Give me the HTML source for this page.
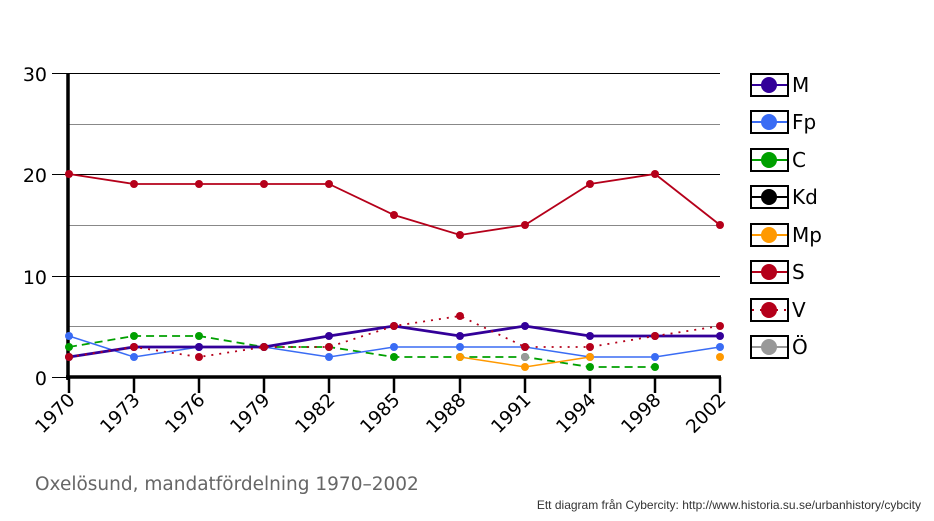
<!DOCTYPE html>
<html><head><meta charset="utf-8"><style>body{margin:0;background:#fff}svg{display:block}</style></head><body>
<svg width="934" height="521" xmlns="http://www.w3.org/2000/svg" font-family="DejaVu Sans, sans-serif">
<g stroke-width="1">
<line x1="69" y1="73.5" x2="720" y2="73.5" stroke="#000"/>
<line x1="69" y1="124.5" x2="720" y2="124.5" stroke="#888"/>
<line x1="69" y1="174.5" x2="720" y2="174.5" stroke="#000"/>
<line x1="69" y1="225.5" x2="720" y2="225.5" stroke="#888"/>
<line x1="69" y1="276.5" x2="720" y2="276.5" stroke="#000"/>
<line x1="69" y1="326.5" x2="720" y2="326.5" stroke="#888"/>
<line x1="52" y1="73.5" x2="69" y2="73.5" stroke="#000"/>
<line x1="52" y1="174.5" x2="69" y2="174.5" stroke="#000"/>
<line x1="52" y1="276.5" x2="69" y2="276.5" stroke="#000"/>
<line x1="52" y1="377.5" x2="69" y2="377.5" stroke="#000"/>
</g>
<g font-size="19" text-anchor="end">
<text x="47" y="81">30</text><text x="47" y="182">20</text><text x="47" y="284">10</text><text x="47" y="385">0</text>
</g>
<line x1="68" y1="73" x2="68" y2="380" stroke="#000" stroke-width="3.5"/>
<line x1="66" y1="377" x2="721" y2="377" stroke="#000" stroke-width="3.5"/>
<g stroke="#000" stroke-width="2.5">
<line x1="69" y1="377" x2="69" y2="393"/><line x1="134" y1="377" x2="134" y2="393"/><line x1="199" y1="377" x2="199" y2="393"/><line x1="264" y1="377" x2="264" y2="393"/><line x1="329" y1="377" x2="329" y2="393"/><line x1="394" y1="377" x2="394" y2="393"/><line x1="460" y1="377" x2="460" y2="393"/><line x1="525" y1="377" x2="525" y2="393"/><line x1="590" y1="377" x2="590" y2="393"/><line x1="655" y1="377" x2="655" y2="393"/><line x1="720" y1="377" x2="720" y2="393"/>
</g>
<g font-size="18.5" text-anchor="end">
<text transform="translate(76,401) rotate(-45)">1970</text>
<text transform="translate(141,401) rotate(-45)">1973</text>
<text transform="translate(206,401) rotate(-45)">1976</text>
<text transform="translate(271,401) rotate(-45)">1979</text>
<text transform="translate(336,401) rotate(-45)">1982</text>
<text transform="translate(401,401) rotate(-45)">1985</text>
<text transform="translate(467,401) rotate(-45)">1988</text>
<text transform="translate(532,401) rotate(-45)">1991</text>
<text transform="translate(597,401) rotate(-45)">1994</text>
<text transform="translate(662,401) rotate(-45)">1998</text>
<text transform="translate(727,401) rotate(-45)">2002</text>
</g>
<!-- S -->
<polyline fill="none" stroke="#b5001a" stroke-width="1.8" points="69,174 134,184 199,184 264,184 329,184 394,215 460,235 525,225 590,184 655,174 720,225"/>
<g fill="#b5001a"><circle cx="69" cy="174" r="4"/><circle cx="134" cy="184" r="4"/><circle cx="199" cy="184" r="4"/><circle cx="264" cy="184" r="4"/><circle cx="329" cy="184" r="4"/><circle cx="394" cy="215" r="4"/><circle cx="460" cy="235" r="4"/><circle cx="525" cy="225" r="4"/><circle cx="590" cy="184" r="4"/><circle cx="655" cy="174" r="4"/><circle cx="720" cy="225" r="4"/></g>
<!-- C -->
<polyline fill="none" stroke="#00a000" stroke-width="1.8" stroke-dasharray="8,5" points="69,347 134,336 199,336 264,347 329,347 394,357 460,357 525,357 590,367 655,367"/>
<g fill="#00a000"><circle cx="69" cy="347" r="4"/><circle cx="134" cy="336" r="4"/><circle cx="199" cy="336" r="4"/><circle cx="264" cy="347" r="4"/><circle cx="329" cy="347" r="4"/><circle cx="394" cy="357" r="4"/><circle cx="460" cy="357" r="4"/><circle cx="525" cy="357" r="4"/><circle cx="590" cy="367" r="4"/><circle cx="655" cy="367" r="4"/></g>
<!-- Fp -->
<polyline fill="none" stroke="#3a6cf4" stroke-width="1.5" points="69,336 134,357 199,347 264,347 329,357 394,347 460,347 525,347 590,357 655,357 720,347"/>
<g fill="#3a6cf4"><circle cx="69" cy="336" r="4"/><circle cx="134" cy="357" r="4"/><circle cx="199" cy="347" r="4"/><circle cx="264" cy="347" r="4"/><circle cx="329" cy="357" r="4"/><circle cx="394" cy="347" r="4"/><circle cx="460" cy="347" r="4"/><circle cx="525" cy="347" r="4"/><circle cx="590" cy="357" r="4"/><circle cx="655" cy="357" r="4"/><circle cx="720" cy="347" r="4"/></g>
<!-- Mp -->
<polyline fill="none" stroke="#ff9900" stroke-width="1.5" points="460,357 525,367 590,357"/>
<g fill="#ff9900"><circle cx="460" cy="357" r="4"/><circle cx="525" cy="367" r="4"/><circle cx="590" cy="357" r="4"/><circle cx="720" cy="357" r="4"/></g>
<circle cx="525" cy="357" r="4" fill="#999"/>
<!-- M -->
<polyline fill="none" stroke="#330099" stroke-width="2.8" points="69,357 134,347 199,347 264,347 329,336 394,326 460,336 525,326 590,336 655,336 720,336"/>
<g fill="#330099"><circle cx="69" cy="357" r="4"/><circle cx="134" cy="347" r="4"/><circle cx="199" cy="347" r="4"/><circle cx="264" cy="347" r="4"/><circle cx="329" cy="336" r="4"/><circle cx="394" cy="326" r="4"/><circle cx="460" cy="336" r="4"/><circle cx="525" cy="326" r="4"/><circle cx="590" cy="336" r="4"/><circle cx="655" cy="336" r="4"/><circle cx="720" cy="336" r="4"/></g>
<!-- V -->
<polyline fill="none" stroke="#b5001a" stroke-width="1.8" stroke-dasharray="2,6" points="69,357 134,347 199,357 264,347 329,347 394,326 460,316 525,347 590,347 655,336 720,326"/>
<g fill="#b5001a"><circle cx="69" cy="357" r="4"/><circle cx="134" cy="347" r="4"/><circle cx="199" cy="357" r="4"/><circle cx="264" cy="347" r="4"/><circle cx="329" cy="347" r="4"/><circle cx="394" cy="326" r="4"/><circle cx="460" cy="316" r="4"/><circle cx="525" cy="347" r="4"/><circle cx="590" cy="347" r="4"/><circle cx="655" cy="336" r="4"/><circle cx="720" cy="326" r="4"/></g>
<!-- legend -->
<g font-size="20">
<g transform="translate(0,85)"><rect x="751" y="-11" width="37" height="22" fill="#fff" stroke="#000" stroke-width="2"/><line x1="752" y1="0" x2="787" y2="0" stroke="#330099" stroke-width="2"/><circle cx="769" cy="0" r="8" fill="#330099"/><text x="792" y="7">M</text></g>
<g transform="translate(0,122)"><rect x="751" y="-11" width="37" height="22" fill="#fff" stroke="#000" stroke-width="2"/><line x1="752" y1="0" x2="787" y2="0" stroke="#3a6cf4" stroke-width="2"/><circle cx="769" cy="0" r="8" fill="#3a6cf4"/><text x="792" y="7">Fp</text></g>
<g transform="translate(0,160)"><rect x="751" y="-11" width="37" height="22" fill="#fff" stroke="#000" stroke-width="2"/><line x1="752" y1="0" x2="787" y2="0" stroke="#00a000" stroke-width="2"/><circle cx="769" cy="0" r="8" fill="#00a000"/><text x="792" y="7">C</text></g>
<g transform="translate(0,197)"><rect x="751" y="-11" width="37" height="22" fill="#fff" stroke="#000" stroke-width="2"/><line x1="752" y1="0" x2="787" y2="0" stroke="#000" stroke-width="2"/><circle cx="769" cy="0" r="8" fill="#000"/><text x="792" y="7">Kd</text></g>
<g transform="translate(0,235)"><rect x="751" y="-11" width="37" height="22" fill="#fff" stroke="#000" stroke-width="2"/><line x1="752" y1="0" x2="787" y2="0" stroke="#ff9900" stroke-width="2"/><circle cx="769" cy="0" r="8" fill="#ff9900"/><text x="792" y="7">Mp</text></g>
<g transform="translate(0,272)"><rect x="751" y="-11" width="37" height="22" fill="#fff" stroke="#000" stroke-width="2"/><line x1="752" y1="0" x2="787" y2="0" stroke="#b5001a" stroke-width="2"/><circle cx="769" cy="0" r="8" fill="#b5001a"/><text x="792" y="7">S</text></g>
<g transform="translate(0,310)"><rect x="751" y="-11" width="37" height="22" fill="#fff" stroke="#000" stroke-width="2"/><line x1="752" y1="0" x2="787" y2="0" stroke="#b5001a" stroke-width="2" stroke-dasharray="2,6"/><circle cx="769" cy="0" r="8" fill="#b5001a"/><text x="792" y="7">V</text></g>
<g transform="translate(0,347)"><rect x="751" y="-11" width="37" height="22" fill="#fff" stroke="#000" stroke-width="2"/><line x1="752" y1="0" x2="787" y2="0" stroke="#999" stroke-width="2"/><circle cx="769" cy="0" r="8" fill="#999"/><text x="792" y="7">Ö</text></g>
</g>
<text x="35" y="490" font-size="18.5" fill="#666">Oxelösund, mandatfördelning 1970–2002</text>
<text x="921" y="509" font-size="12" fill="#333" text-anchor="end" font-family="Liberation Sans, sans-serif">Ett diagram från Cybercity: http://www.historia.su.se/urbanhistory/cybcity</text>
</svg>
</body></html>
